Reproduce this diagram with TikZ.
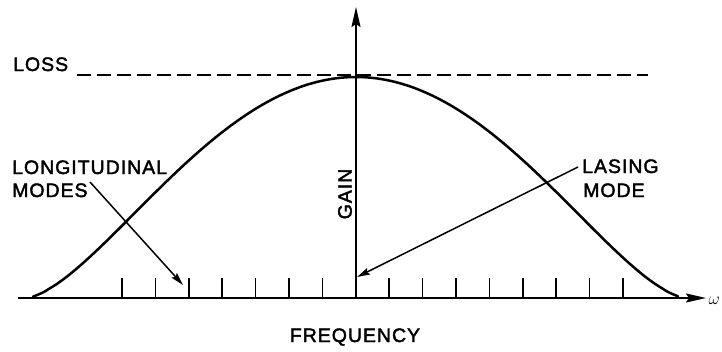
\documentclass[tikz,border=0pt]{standalone}
\usepackage{fontspec}
\setmainfont{Liberation Sans}[LetterSpace=5,FakeBold=2]
\usetikzlibrary{arrows.meta}
\tikzset{
  lbl/.style={font=\fontsize{19.5}{21}\selectfont, inner sep=0pt, anchor=base west},
  axisline/.style={line width=1.9pt, -{Stealth[length=20pt,width=9pt,inset=3pt]}},
  gaincurve/.style={line width=2.5pt},
  leader/.style={line width=1.5pt, -{Stealth[length=13pt,width=7pt,inset=2pt]}},
  tickmark/.style={line width=1.6pt},
  lossline/.style={line width=1.6pt, dash pattern=on 14pt off 6pt}
}
\begin{document}
\begin{tikzpicture}[x=1pt,y=-1pt]
\useasboundingbox (0,0) rectangle (722,351);
% axes
\coordinate (hstart) at (18,298);
\coordinate (hend) at (706,298);
\coordinate (origin) at (356,298);
\coordinate (vend) at (356,7);
\draw[axisline] (hstart) -- (hend);
\draw[axisline] (origin) -- (vend);
% ticks
\foreach \k in {0,...,6,8,9,...,15} {
  \draw[tickmark] ({122+33.4*\k},298) -- ({122+33.4*\k},278);
}
% loss line
\coordinate (lossA) at (77,75);
\coordinate (lossB) at (648,75);
\draw[lossline] (lossA) -- (lossB);
% gain curve
\draw[gaincurve, line join=round, line cap=round] plot[domain=-323:322, samples=160, smooth]
  ({356+\x}, {298-221*(1-(\x/330)^2)^1.6});
% labels
\node[lbl] (loss) at (13,71) {LOSS};
\node[lbl] (longit) at (12,174) {LONGITUDINAL};
\node[lbl] (modes) at (12,197) {MODES};
\node[lbl] (lasing) at (582,173) {LASING};
\node[lbl] (mode) at (583,197) {MODE};
\node[lbl, anchor=center, rotate=90] (gain) at (345,194) {GAIN};
\node[lbl, anchor=base] (freq) at (355,342) {FREQUENCY};
\node[lbl, anchor=west] (omega) at (708.5,301) {\fontsize{18}{18}\selectfont$\omega$};
% leader arrows
\coordinate (lmstart) at (90,182);
\coordinate (lmend) at (183,285);
\coordinate (lastart) at (578,167);
\coordinate (laend) at (357,277);
\draw[leader] (lmstart) -- (lmend);
\draw[leader] (lastart) -- (laend);
\end{tikzpicture}
\end{document}
